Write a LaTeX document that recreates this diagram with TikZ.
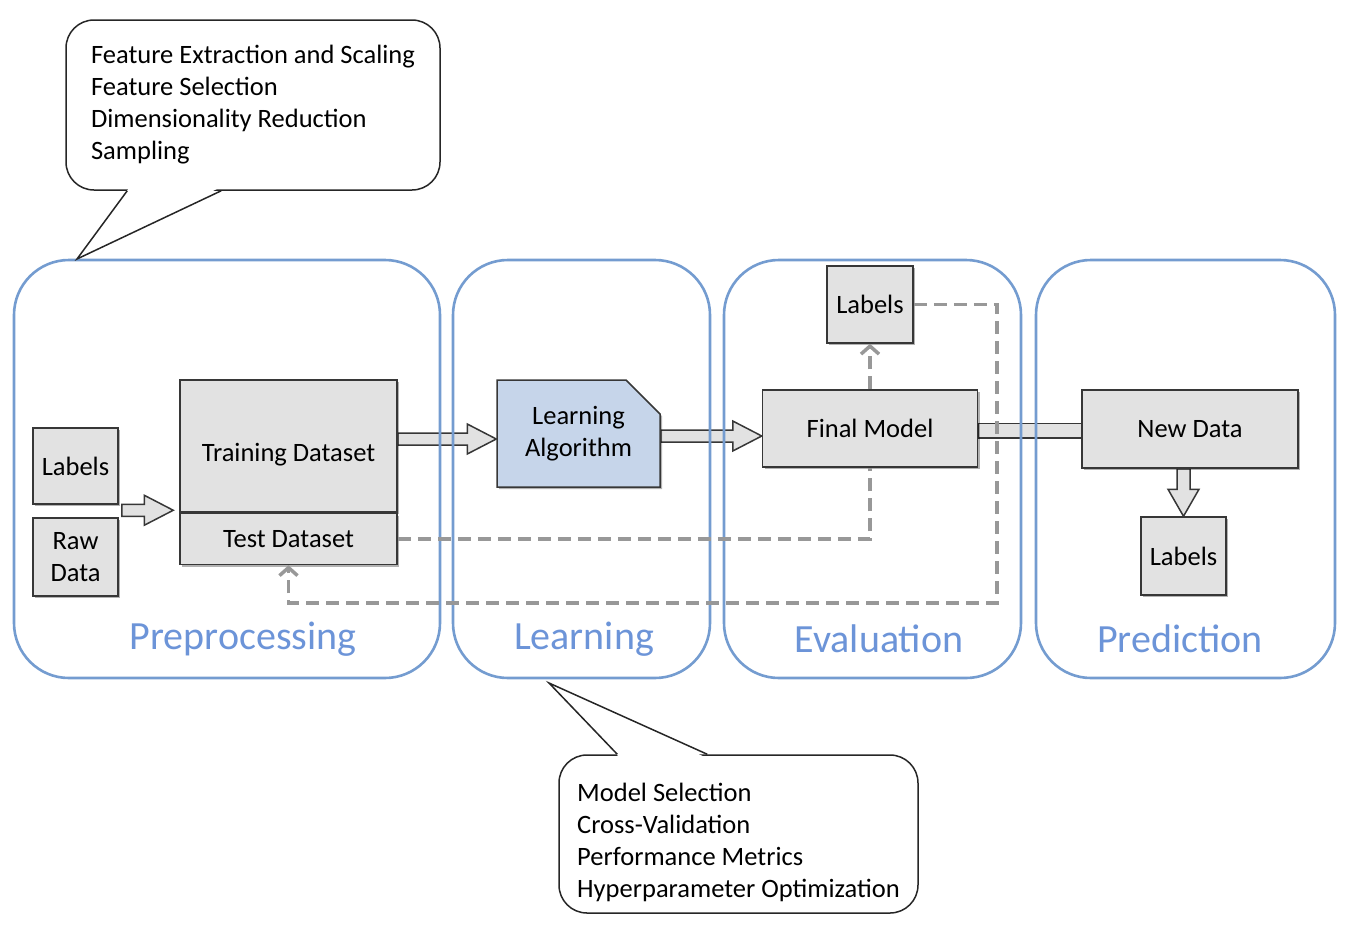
\documentclass[tikz,border=0pt]{standalone}
\usepackage{fontspec}
\setmainfont{Carlito}
\usetikzlibrary{arrows.meta,positioning,shapes.misc,shadows,backgrounds,calc}
\definecolor{boxgray}  {RGB}{226,226,226}
\definecolor{edgegray} {RGB}{55,55,55}
\definecolor{algoblue} {RGB}{198,213,234}
\definecolor{panelblue}{RGB}{116,156,208}
\definecolor{titleblue}{RGB}{108,148,216}
\definecolor{dashgray} {RGB}{152,152,152}

% hollow block arrows (pixel units, y downwards)
\newcommand{\rightblock}[2]{%
  \draw[blockarrow] let \p1=#1, \p2=#2 in
    (\x1,\y1+6pt) -- (\x2-29pt,\y1+6pt) -- (\x2-29pt,\y1+15pt) -- (\x2,\y1)
    -- (\x2-29pt,\y1-15pt) -- (\x2-29pt,\y1-6pt) -- (\x1,\y1-6pt) -- cycle;}
\newcommand{\downblock}[2]{%
  \draw[blockarrow] let \p1=#1, \p2=#2 in
    (\x2-6.5pt,\y1) -- (\x2-6.5pt,\y2+27pt) -- (\x2-15.5pt,\y2+27pt) -- (\x2,\y2)
    -- (\x2+15.5pt,\y2+27pt) -- (\x2+6.5pt,\y2+27pt) -- (\x2+6.5pt,\y1) -- cycle;}

\begin{document}
\begin{tikzpicture}[x=1pt,y=-1pt,font=\fontsize{26.5}{32}\selectfont,
    box/.style={draw=edgegray,line width=1.5pt,fill=boxgray,inner sep=2pt,align=center,
      drop shadow={shadow xshift=2pt,shadow yshift=-2pt,opacity=.3,fill=black}},
    panel/.style={draw=panelblue,line width=2.6pt,rounded corners=55pt},
    title/.style={text=titleblue,font=\fontsize{40}{42}\selectfont},
    note/.style={draw=black!85,line width=1.5pt,fill=white,rounded corners=28pt,align=left},
    blockarrow/.style={draw=edgegray,line width=1.5pt,fill=boxgray},
    dashline/.style={draw=dashgray,line width=3.5pt,dash pattern=on 13pt off 7pt},
    dashtip/.style={-{Straight Barb[length=8pt,width=18pt]}}]
  \useasboundingbox (0,0) rectangle (1358,938);

  % preprocessing
  \node[box,minimum width=85pt,minimum height=76pt] (rawlabels) at (75.5,466) {Labels};
  \node[box,minimum width=85pt,minimum height=78pt] (rawdata) at (75.5,557) {Raw\\Data};
  \node[box,minimum width=217pt,minimum height=132pt,text height=30pt,text depth=0pt] (train) at (288.5,446) {Training Dataset};
  \node[box,minimum width=217pt,minimum height=51pt,below=0pt of train] (test) {Test Dataset};

  % learning
  \node[box,fill=algoblue,chamfered rectangle,chamfered rectangle corners=north east,
        chamfered rectangle xsep=17pt,chamfered rectangle ysep=17pt,
        minimum width=163pt,minimum height=107pt] (algo) at (578.5,433.5) {Learning\\Algorithm};

  % evaluation
  \node[box,minimum width=215pt,minimum height=77pt] (finalmodel) at (870,428.5) {Final Model};
  \node[box,minimum width=86pt,minimum height=77pt] (evallabels) at (870,304.5) {Labels};

  % prediction
  \node[box,minimum width=216pt,minimum height=78pt] (newdata) at (1190,429) {New Data};
  \node[box,minimum width=85pt,minimum height=78pt] (predlabels) at (1183.5,556) {Labels};

  \begin{pgfonlayer}{background}
    \rightblock{($(rawdata.north east)+(3,-7)$)}{($(train.south west)+(-6,0)$)}
    \rightblock{($(train.east)+(0,-7)$)}{(algo.west)}
    \rightblock{($(algo.east)+(0,2.5)$)}{(finalmodel.west)}
    \draw[blockarrow] ($(finalmodel.east)+(0,-5)$) rectangle ($(newdata.west)+(0,9)$);
    \downblock{(newdata.south)}{(predlabels.north)}
    \node[panel,minimum width=426pt,minimum height=418pt] (prep) at (227,469) {};
    \node[panel,minimum width=257pt,minimum height=418pt] (learn) at (581.5,469) {};
    \node[panel,minimum width=297pt,minimum height=418pt] (eval) at (872.5,469) {};
    \node[panel,minimum width=299pt,minimum height=418pt] (pred) at (1185.5,469) {};
  \end{pgfonlayer}

  \node[title] (preptitle)  at (243,639)  {Preprocessing};
  \node[title] (learntitle) at (584,639)  {Learning};
  \node[title] (evaltitle)  at (879,639)  {Evaluation};
  \node[title] (predtitle)  at (1180,639) {Prediction};

  % dashed feedback lines
  \draw[dashline] (test.east) -| (finalmodel.south);
  \draw[dashline,dashtip] (finalmodel.north) -- (evallabels.south);
  \coordinate (loopcorner) at (997,603);
  \draw[dashline,dashtip] (evallabels.east) -| (loopcorner) -| (test.south);

  % callouts
  \node[note,minimum width=374pt,minimum height=170pt] (prepnote) at (253,105)
    {Feature Extraction and Scaling\\Feature Selection\\Dimensionality Reduction\\Sampling};
  \coordinate (preptip) at (77,259);
  \fill[white] ($(prepnote.south west)+(64,-3)$) -- (preptip) -- ($(prepnote.south west)+(154,-3)$) -- cycle;
  \draw[line width=1.5pt,black!85] ($(prepnote.south west)+(62,0)$) -- (preptip) -- ($(prepnote.south west)+(156,0)$);

  \node[note,minimum width=359pt,minimum height=158pt] (learnnote) at (738.5,834)
    {\rule{0pt}{35pt}Model Selection\\Cross-Validation\\Performance Metrics\\Hyperparameter Optimization};
  \coordinate (learntip) at (549,683);
  \fill[white] ($(learnnote.north west)+(61,3)$) -- (learntip) -- ($(learnnote.north west)+(147,3)$) -- cycle;
  \draw[line width=1.5pt,black!85] ($(learnnote.north west)+(59,0)$) -- (learntip) -- ($(learnnote.north west)+(149,0)$);
\end{tikzpicture}
\end{document}
